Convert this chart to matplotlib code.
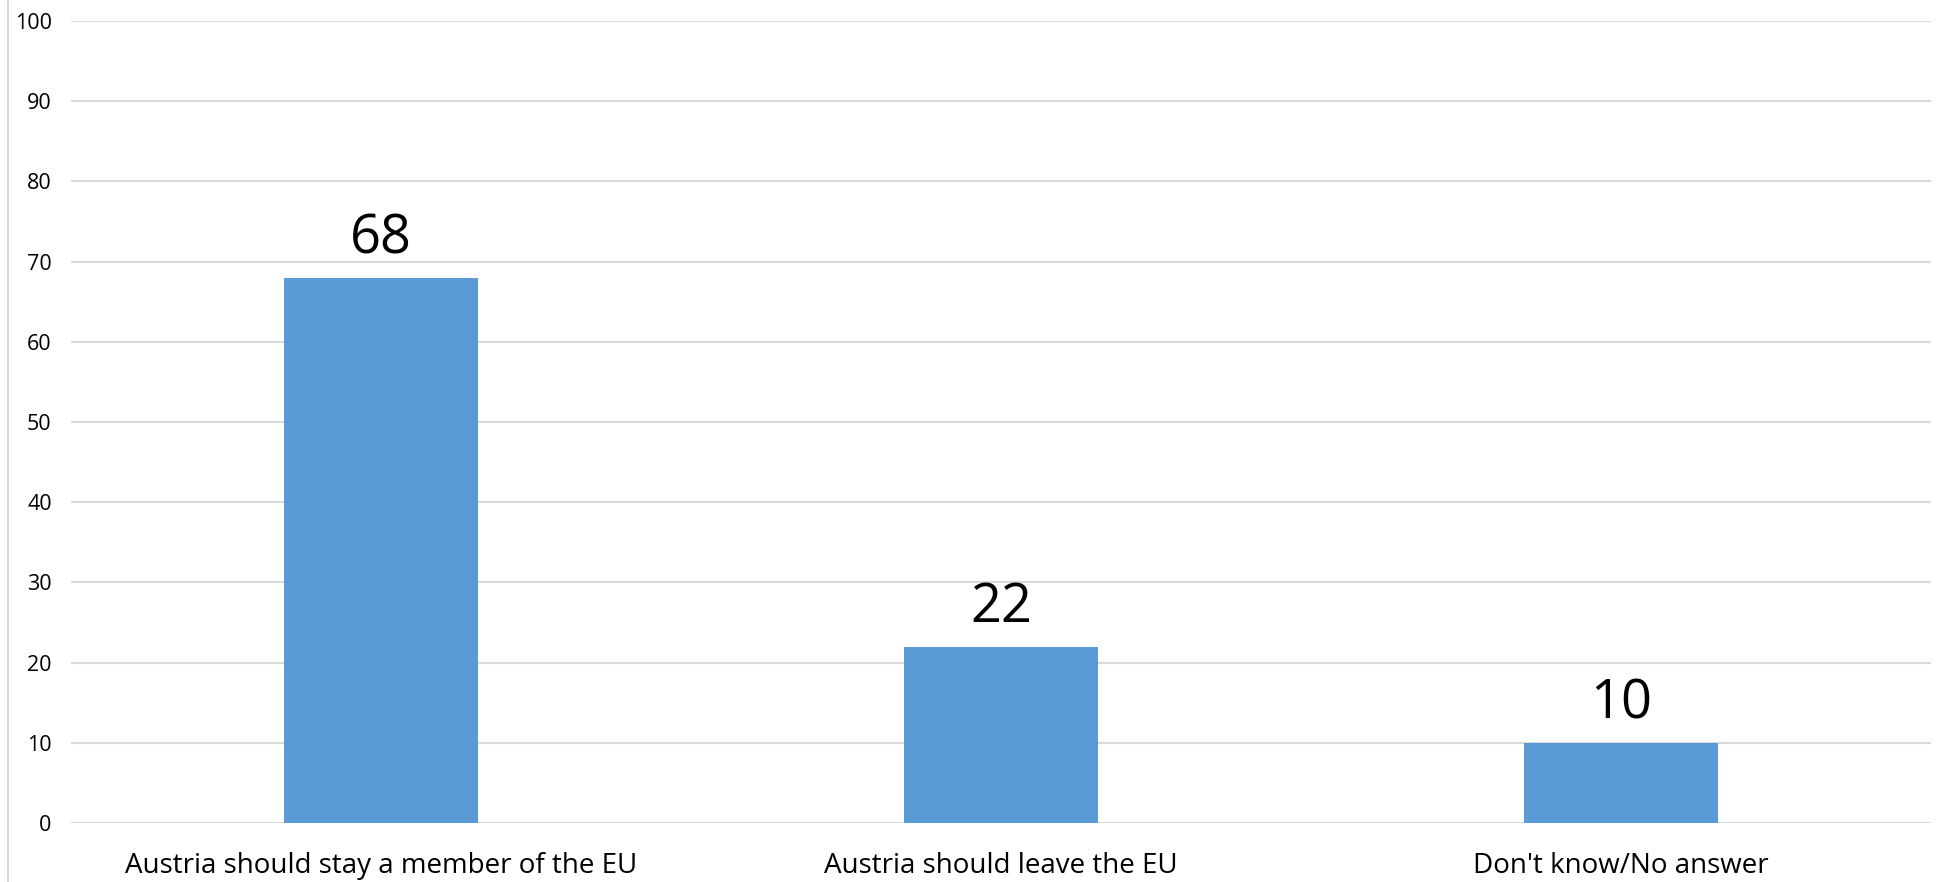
import matplotlib.pyplot as plt
from matplotlib.lines import Line2D

categories = ["Austria should stay a member of the EU", "Austria should leave the EU", "Don't know/No answer"]
values = [68, 22, 10]
y_ticks = [0, 10, 20, 30, 40, 50, 60, 70, 80, 90, 100]

plt.rcParams['font.family'] = ['Open Sans', 'DejaVu Sans']

fig = plt.figure(figsize=(19.37, 8.82), dpi=100)
ax = fig.add_axes([0.0367, 0.0669, 0.9602, 0.9093])

x = range(len(categories))
bars = ax.bar(x, values, width=0.313, color="#5B9BD5", zorder=3)

for rect, v in zip(bars, values):
    ax.annotate(str(v), (rect.get_x() + rect.get_width() / 2, v),
                xytext=(0, 8), textcoords="offset points",
                ha="center", va="bottom", fontsize=39, color="black")

ax.set_xlim(-0.5, len(categories) - 0.5)
ax.set_ylim(0, 100)
ax.set_yticks(y_ticks)
ax.set_xticks(list(x))
ax.set_xticklabels(categories, fontsize=20)
ax.tick_params(axis="y", length=0, pad=14, labelsize=15.5)
ax.tick_params(axis="x", length=0, pad=21)
ax.grid(axis="y", color="#D9D9D9", linewidth=1.5, zorder=0)
for s in ax.spines.values():
    s.set_visible(False)

# thin border line at the far left of the picture
fig.add_artist(Line2D([8 / 1937, 8 / 1937], [0, 1], color="#D9D9D9", linewidth=1.5))

fig.savefig("out.png", dpi=100)
